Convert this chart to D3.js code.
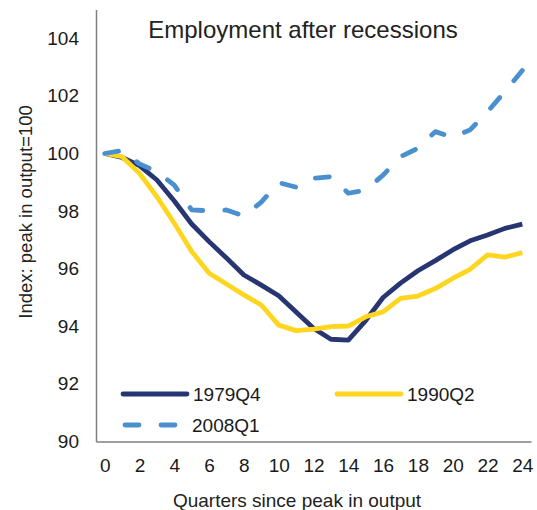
<!DOCTYPE html>
<html>
<head>
<meta charset="utf-8">
<script src="https://cdn.jsdelivr.net/npm/d3@7"></script>
<style>
    body { margin: 0; background: #fff; }
    #viz-employment { width: 537px; height: 510px; }
    text { font-family: 'Liberation Sans', Arial, sans-serif; }
</style>
</head>
<body>
<div id="viz-employment"></div>
<script>
// Employment after recessions, index: peak in output = 100
const quarters = d3.range(0, 25);
const xTickLabels = [0, 2, 4, 6, 8, 10, 12, 14, 16, 18, 20, 22, 24];
const yTickLabels = [90, 92, 94, 96, 98, 100, 102, 104];

const emp1979Q4 = [100.0, 99.86, 99.58, 99.08, 98.35, 97.55, 96.94, 96.37, 95.78, 95.43, 95.06, 94.5, 93.93,
    93.55, 93.52, 94.2, 95.0, 95.5, 95.93, 96.28, 96.65, 96.97, 97.17, 97.4, 97.55];
const emp1990Q2 = [100.0, 99.89, 99.31, 98.5, 97.58, 96.6, 95.84, 95.47, 95.09, 94.74, 94.04, 93.85, 93.9,
    93.99, 94.01, 94.33, 94.5, 94.97, 95.05, 95.31, 95.66, 95.98, 96.48, 96.4, 96.56];
const emp2008Q1 = [100.0, 100.1, 99.64, 99.37, 98.9, 98.04, 98.01, 98.04, 97.83, 98.31, 98.99, 98.83, 99.14,
    99.19, 98.62, 98.73, 99.25, 99.89, 100.18, 100.76, 100.56, 100.82, 101.45, 102.15, 102.88];

const series = [
    { label: '1979Q4', values: emp1979Q4, color: '#283573', dash: null },
    { label: '1990Q2', values: emp1990Q2, color: '#fed61f', dash: null },
    { label: '2008Q1', values: emp2008Q1, color: '#4a90cf', dash: '14,22' }
];

function createEmploymentChart(container) {
    const totalWidth = 537;
    const totalHeight = 510;
    const margin = { top: 9.5, right: 6, bottom: 68.5, left: 96 };
    const width = totalWidth - margin.left - margin.right;
    const height = totalHeight - margin.top - margin.bottom;

    const svg = container.append('svg')
        .attr('width', totalWidth)
        .attr('height', totalHeight);

    const g = svg.append('g')
        .attr('transform', `translate(${margin.left},${margin.top})`);

    // category-style x axis: points sit in the middle of each band
    const xScale = d3.scalePoint()
        .domain(quarters)
        .range([0, width])
        .padding(0.5);

    const yScale = d3.scaleLinear()
        .domain([90, 105])
        .range([height, 0]);

    const line = d3.line()
        .x((d, i) => xScale(quarters[i]))
        .y(d => yScale(d));

    // Axes (plain lines, no tick marks)
    const yAxis = g.append('g')
        .call(d3.axisLeft(yScale).tickValues(yTickLabels).tickSize(0).tickPadding(17));
    yAxis.select('.domain').attr('stroke', '#808080').attr('stroke-width', 1.5);
    yAxis.selectAll('text')
        .style('font-size', '19px')
        .style('fill', '#1a1a1a');

    const xAxis = g.append('g')
        .attr('transform', `translate(0,${height})`)
        .call(d3.axisBottom(xScale).tickValues(xTickLabels).tickSize(0).tickPadding(17));
    xAxis.select('.domain').attr('stroke', '#808080').attr('stroke-width', 1.5);
    xAxis.selectAll('text')
        .style('font-size', '19px')
        .style('fill', '#1a1a1a');

    // Lines
    series.forEach(s => {
        g.append('path')
            .datum(s.values)
            .attr('d', line)
            .attr('fill', 'none')
            .attr('stroke', s.color)
            .attr('stroke-width', 4.8)
            .attr('stroke-linejoin', 'round')
            .attr('stroke-linecap', s.dash ? 'round' : 'butt')
            .attr('stroke-dasharray', s.dash);
    });

    // Title
    svg.append('text')
        .attr('x', 303)
        .attr('y', 38)
        .attr('text-anchor', 'middle')
        .style('font-size', '24px')
        .style('fill', '#222')
        .text('Employment after recessions');

    // Axis titles
    svg.append('text')
        .attr('x', 297)
        .attr('y', 506.5)
        .attr('text-anchor', 'middle')
        .style('font-size', '19px')
        .style('fill', '#222')
        .text('Quarters since peak in output');

    svg.append('text')
        .attr('transform', 'rotate(-90)')
        .attr('x', -212)
        .attr('y', 31.5)
        .attr('text-anchor', 'middle')
        .style('font-size', '18.5px')
        .style('fill', '#222')
        .text('Index: peak in output=100');

    // Legend
    const legendPos = [
        { x: 123, y: 394 },
        { x: 337, y: 394 },
        { x: 123, y: 425 }
    ];
    series.forEach((s, i) => {
        const p = legendPos[i];
        const item = svg.append('g').attr('transform', `translate(${p.x},${p.y})`);
        item.append('line')
            .attr('x1', s.dash ? 2 : 0).attr('x2', s.dash ? 55 : 64)
            .attr('stroke', s.color)
            .attr('stroke-width', 4.8)
            .attr('stroke-linecap', 'round')
            .attr('stroke-dasharray', s.dash);
        item.append('text')
            .attr('x', s.dash ? 69 : 70)
            .attr('y', 6.5)
            .style('font-size', '19px')
            .style('fill', '#1a1a1a')
            .text(s.label);
    });
}

createEmploymentChart(d3.select('#viz-employment'));
</script>
</body>
</html>
